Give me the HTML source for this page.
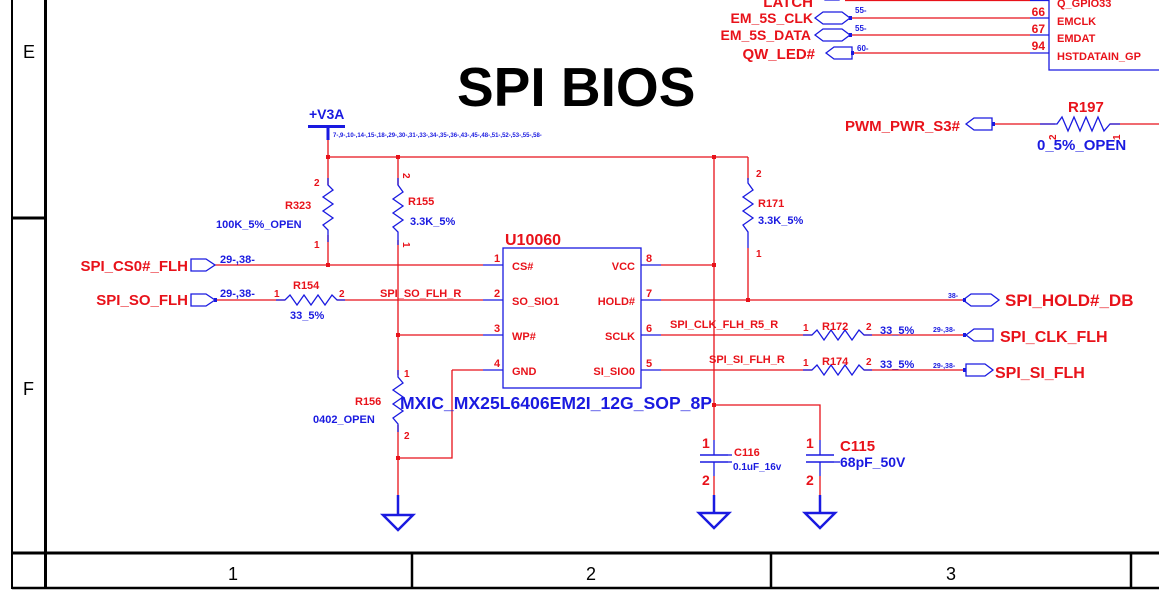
<!DOCTYPE html>
<html><head><meta charset="utf-8"><style>
html,body{margin:0;padding:0;background:#fff;}
svg{display:block;}
text{font-family:"Liberation Sans",sans-serif;font-weight:bold;}
.r{fill:#e8121a;}
.b{fill:#1a1ae0;}
</style></head><body>
<svg width="1159" height="601" viewBox="0 0 1159 601" xmlns="http://www.w3.org/2000/svg">
<rect width="1159" height="601" fill="#fff"/>
<g stroke="#000" fill="none">
<line x1="12" y1="0" x2="12" y2="589" stroke-width="2"/>
<line x1="45.5" y1="0" x2="45.5" y2="589" stroke-width="3"/>
<line x1="12" y1="218" x2="46" y2="218" stroke-width="3"/>
<line x1="12" y1="553" x2="1159" y2="553" stroke-width="3"/>
<line x1="12" y1="588" x2="1159" y2="588" stroke-width="2.5"/>
<line x1="412" y1="553" x2="412" y2="588" stroke-width="2.5"/>
<line x1="771" y1="553" x2="771" y2="588" stroke-width="2.5"/>
<line x1="1131" y1="553" x2="1131" y2="588" stroke-width="2.5"/>
</g>
<g fill="#000">
<text x="23" y="58" style="font-weight:normal;font-size:18px">E</text>
<text x="23" y="395" style="font-weight:normal;font-size:18px">F</text>
<text x="228" y="580" style="font-weight:normal;font-size:18px">1</text>
<text x="586" y="580" style="font-weight:normal;font-size:18px">2</text>
<text x="946" y="580" style="font-weight:normal;font-size:18px">3</text>
</g>
<text x="457" y="106" font-size="55" fill="#000">SPI BIOS</text>

<g stroke="#e8121a" stroke-width="1.3" fill="none">
<line x1="845" y1="0.5" x2="1030" y2="0.5"/>
<line x1="850" y1="18" x2="1030" y2="18"/>
<line x1="850" y1="35" x2="1030" y2="35"/>
<line x1="852" y1="53" x2="1030" y2="53"/>
<line x1="995" y1="124" x2="1055" y2="124"/>
<line x1="1110" y1="124" x2="1159" y2="124"/>
<line x1="328" y1="140" x2="328" y2="185"/>
<line x1="328" y1="157" x2="748" y2="157"/>
<line x1="328" y1="235" x2="328" y2="265"/>
<line x1="398" y1="157" x2="398" y2="185"/>
<line x1="398" y1="240" x2="398" y2="375"/>
<line x1="398" y1="425" x2="398" y2="495"/>
<line x1="215" y1="265" x2="483" y2="265"/>
<line x1="215" y1="300" x2="285" y2="300"/>
<line x1="337" y1="300" x2="483" y2="300"/>
<line x1="398" y1="335" x2="483" y2="335"/>
<line x1="483" y1="370" x2="452" y2="370"/>
<polyline points="452,370 452,458 398,458"/>
<line x1="661" y1="265" x2="714" y2="265"/>
<line x1="714" y1="157" x2="714" y2="440"/>
<line x1="714" y1="476" x2="714" y2="495"/>
<polyline points="714,405 820,405 820,440"/>
<line x1="820" y1="476" x2="820" y2="495"/>
<line x1="748" y1="157" x2="748" y2="180"/>
<line x1="748" y1="248" x2="748" y2="300"/>
<line x1="661" y1="300" x2="963" y2="300"/>
<line x1="661" y1="335" x2="812" y2="335"/>
<line x1="864" y1="335" x2="965" y2="335"/>
<line x1="661" y1="370" x2="812" y2="370"/>
<line x1="864" y1="370" x2="965" y2="370"/>
</g>
<g fill="#e8121a">
<rect x="326" y="155" width="4" height="4"/><rect x="396" y="155" width="4" height="4"/><rect x="712" y="155" width="4" height="4"/>
<rect x="326" y="263" width="4" height="4"/><rect x="396" y="333" width="4" height="4"/><rect x="396" y="456" width="4" height="4"/>
<rect x="712" y="263" width="4" height="4"/><rect x="746" y="298" width="4" height="4"/><rect x="712" y="403" width="4" height="4"/>
</g>
<g stroke="#1a1ae0" stroke-width="1.3" fill="none">
<polyline points="1049,0 1049,70 1159,70"/>
<line x1="1030" y1="0.5" x2="1049" y2="0.5"/><line x1="1030" y1="18" x2="1049" y2="18"/><line x1="1030" y1="35" x2="1049" y2="35"/><line x1="1030" y1="53" x2="1049" y2="53"/>
<polygon points="825,0 839,0 845,-4 825,-4"/>
<polygon points="815,18 823,12 842,12 850,18 842,24 823,24"/>
<polygon points="815,35 823,29 842,29 850,35 842,41 823,41"/>
<polygon points="826,53 834,47 852,47 852,59 834,59"/>
<polygon points="966,124 974,118 992,118 992,130 974,130"/>
<polyline points="1040,124 1057,124 1062,117 1068,131 1074,117 1080,131 1086,117 1092,131 1098,117 1104,131 1110,124 1120,124"/>
<line x1="308" y1="126.5" x2="345" y2="126.5" stroke-width="3"/>
<line x1="328" y1="127" x2="328" y2="140" stroke-width="3"/>
<polyline points="328,178 328,185 333,190 323,197 333,204 323,211 333,218 323,225 328,230 328,242"/>
<polyline points="398,178 398,185 403,192 393,199 403,206 393,213 403,220 393,227 398,232 398,245"/>
<polyline points="748,178 748,183 753,190 743,197 753,204 743,211 753,218 743,225 748,232 748,248"/>
<polyline points="398,370 398,377 403,383 393,390 403,397 393,404 403,411 393,418 398,424 398,432"/>
<polyline points="276,300 285,300 290,295 297,305 304,295 311,305 318,295 325,305 332,295 337,300 345,300"/>
<polyline points="803,335 812,335 817,330 824,340 831,330 838,340 845,330 852,340 859,330 864,335 872,335"/>
<polyline points="803,370 812,370 817,365 824,375 831,365 838,375 845,365 852,375 859,365 864,370 872,370"/>
<polygon points="191,259 206,259 215,265 206,271 191,271"/>
<polygon points="191,294 206,294 215,300 206,306 191,306"/>
<polygon points="963,300 971,294 991,294 999,300 991,306 971,306"/>
<polygon points="966,335 974,329 993,329 993,341 974,341"/>
<polygon points="966,364 985,364 993,370 985,376 966,376"/>
<rect x="503" y="248" width="138" height="140"/>
<line x1="483" y1="265" x2="503" y2="265"/><line x1="483" y1="300" x2="503" y2="300"/><line x1="483" y1="335" x2="503" y2="335"/><line x1="483" y1="370" x2="503" y2="370"/>
<line x1="641" y1="265" x2="661" y2="265"/><line x1="641" y1="300" x2="661" y2="300"/><line x1="641" y1="335" x2="661" y2="335"/><line x1="641" y1="370" x2="661" y2="370"/>
<line x1="700" y1="455" x2="728" y2="455" stroke-width="1.5"/><line x1="700" y1="462" x2="728" y2="462" stroke-width="1.5"/>
<line x1="714" y1="440" x2="714" y2="455"/><line x1="714" y1="462" x2="714" y2="476"/>
<line x1="728" y1="455" x2="732" y2="455"/><line x1="728" y1="462" x2="732" y2="462"/>
<line x1="806" y1="455" x2="834" y2="455" stroke-width="1.5"/><line x1="806" y1="462" x2="834" y2="462" stroke-width="1.5"/>
<line x1="820" y1="440" x2="820" y2="455"/><line x1="820" y1="462" x2="820" y2="476"/>
<line x1="834" y1="462" x2="840" y2="462"/>
<g stroke-width="2.5">
<line x1="398" y1="495" x2="398" y2="515"/><polygon points="383,515 413,515 398,530"/>
<line x1="714" y1="495" x2="714" y2="513"/><polygon points="699,513 729,513 714,528"/>
<line x1="820" y1="495" x2="820" y2="513"/><polygon points="805,513 835,513 820,528"/>
</g>
</g>
<g fill="#1a1ae0"><rect x="849" y="16" width="3" height="4"/><rect x="849" y="33" width="3" height="4"/><rect x="851" y="51" width="3" height="4"/><rect x="992" y="122" width="3" height="4"/><rect x="214" y="298" width="3" height="4"/><rect x="963" y="298" width="3" height="4"/><rect x="963" y="333" width="3" height="4"/><rect x="963" y="368" width="3" height="4"/></g>

<g class="r">
<text x="813" y="7" font-size="15" text-anchor="end">LATCH</text>
<text x="813" y="23" font-size="14" text-anchor="end">EM_5S_CLK</text>
<text x="811" y="40" font-size="14" text-anchor="end">EM_5S_DATA</text>
<text x="815" y="59" font-size="15" text-anchor="end">QW_LED#</text>
<text x="1045" y="16" font-size="12" text-anchor="end">66</text>
<text x="1045" y="33" font-size="12" text-anchor="end">67</text>
<text x="1045" y="50" font-size="12" text-anchor="end">94</text>
<text x="1057" y="7" font-size="11">Q_GPIO33</text>
<text x="1057" y="25" font-size="11">EMCLK</text>
<text x="1057" y="42" font-size="11">EMDAT</text>
<text x="1057" y="60" font-size="11">HSTDATAIN_GP</text>
<text x="960" y="131" font-size="15" text-anchor="end">PWM_PWR_S3#</text>
<text x="1068" y="112" font-size="15">R197</text>
<text x="1048" y="140" font-size="10" transform="rotate(-90 1052 136)">2</text>
<text x="1112" y="140" font-size="10" transform="rotate(-90 1116 136)">1</text>
<text x="188" y="271" font-size="15" text-anchor="end">SPI_CS0#_FLH</text>
<text x="188" y="305" font-size="15" text-anchor="end">SPI_SO_FLH</text>
<text x="314" y="186" font-size="10">2</text>
<text x="314" y="248" font-size="10">1</text>
<text x="285" y="209" font-size="11">R323</text>
<text x="404" y="180" font-size="10" transform="rotate(90 407 176)">2</text>
<text x="404" y="249" font-size="10" transform="rotate(90 407 245)">1</text>
<text x="408" y="205" font-size="11">R155</text>
<text x="274" y="297" font-size="10">1</text>
<text x="339" y="297" font-size="10">2</text>
<text x="293" y="289" font-size="11">R154</text>
<text x="380" y="297" font-size="11">SPI_SO_FLH_R</text>
<text x="505" y="245" font-size="16">U10060</text>
<text x="494" y="262" font-size="11">1</text>
<text x="494" y="297" font-size="11">2</text>
<text x="494" y="332" font-size="11">3</text>
<text x="494" y="367" font-size="11">4</text>
<text x="646" y="262" font-size="11">8</text>
<text x="646" y="297" font-size="11">7</text>
<text x="646" y="332" font-size="11">6</text>
<text x="646" y="367" font-size="11">5</text>
<text x="512" y="270" font-size="11">CS#</text>
<text x="512" y="305" font-size="11">SO_SIO1</text>
<text x="512" y="340" font-size="11">WP#</text>
<text x="512" y="375" font-size="11">GND</text>
<text x="635" y="270" font-size="11" text-anchor="end">VCC</text>
<text x="635" y="305" font-size="11" text-anchor="end">HOLD#</text>
<text x="635" y="340" font-size="11" text-anchor="end">SCLK</text>
<text x="635" y="375" font-size="11" text-anchor="end">SI_SIO0</text>
<text x="404" y="377" font-size="10">1</text>
<text x="404" y="439" font-size="10">2</text>
<text x="355" y="405" font-size="11">R156</text>
<text x="756" y="177" font-size="10">2</text>
<text x="756" y="257" font-size="10">1</text>
<text x="758" y="207" font-size="11">R171</text>
<text x="1005" y="306" font-size="17">SPI_HOLD#_DB</text>
<text x="670" y="328" font-size="11">SPI_CLK_FLH_R5_R</text>
<text x="803" y="331" font-size="10">1</text>
<text x="822" y="330" font-size="11">R172</text>
<text x="866" y="330" font-size="10">2</text>
<text x="1000" y="342" font-size="16">SPI_CLK_FLH</text>
<text x="709" y="363" font-size="11">SPI_SI_FLH_R</text>
<text x="803" y="366" font-size="10">1</text>
<text x="822" y="365" font-size="11">R174</text>
<text x="866" y="365" font-size="10">2</text>
<text x="995" y="378" font-size="16">SPI_SI_FLH</text>
<text x="702" y="448" font-size="14">1</text>
<text x="702" y="485" font-size="14">2</text>
<text x="734" y="456" font-size="11">C116</text>
<text x="806" y="448" font-size="14">1</text>
<text x="806" y="485" font-size="14">2</text>
<text x="840" y="451" font-size="15">C115</text>
</g>
<g class="b">
<text x="855" y="13" font-size="8">55-</text>
<text x="855" y="31" font-size="8">55-</text>
<text x="857" y="51" font-size="8">60-</text>
<text x="1037" y="150" font-size="15">0_5%_OPEN</text>
<text x="309" y="119" font-size="14">+V3A</text>
<text x="333" y="137" font-size="6">7-,9-,10-,14-,15-,18-,29-,30-,31-,33-,34-,35-,36-,43-,45-,48-,51-,52-,53-,55-,58-</text>
<text x="216" y="228" font-size="11">100K_5%_OPEN</text>
<text x="410" y="225" font-size="11">3.3K_5%</text>
<text x="220" y="263" font-size="11">29-,38-</text>
<text x="220" y="297" font-size="11">29-,38-</text>
<text x="290" y="319" font-size="11">33_5%</text>
<text x="313" y="423" font-size="11">0402_OPEN</text>
<text x="400" y="409" font-size="17.5" textLength="312" lengthAdjust="spacingAndGlyphs">MXIC_MX25L6406EM2I_12G_SOP_8P</text>
<text x="758" y="224" font-size="11">3.3K_5%</text>
<text x="948" y="298" font-size="7">38-</text>
<text x="880" y="334" font-size="11">33_5%</text>
<text x="933" y="332" font-size="7">29-,38-</text>
<text x="880" y="368" font-size="11">33_5%</text>
<text x="933" y="368" font-size="7">29-,38-</text>
<text x="733" y="470" font-size="10">0.1uF_16v</text>
<text x="840" y="467" font-size="14">68pF_50V</text>
</g>
</svg>
</body></html>
